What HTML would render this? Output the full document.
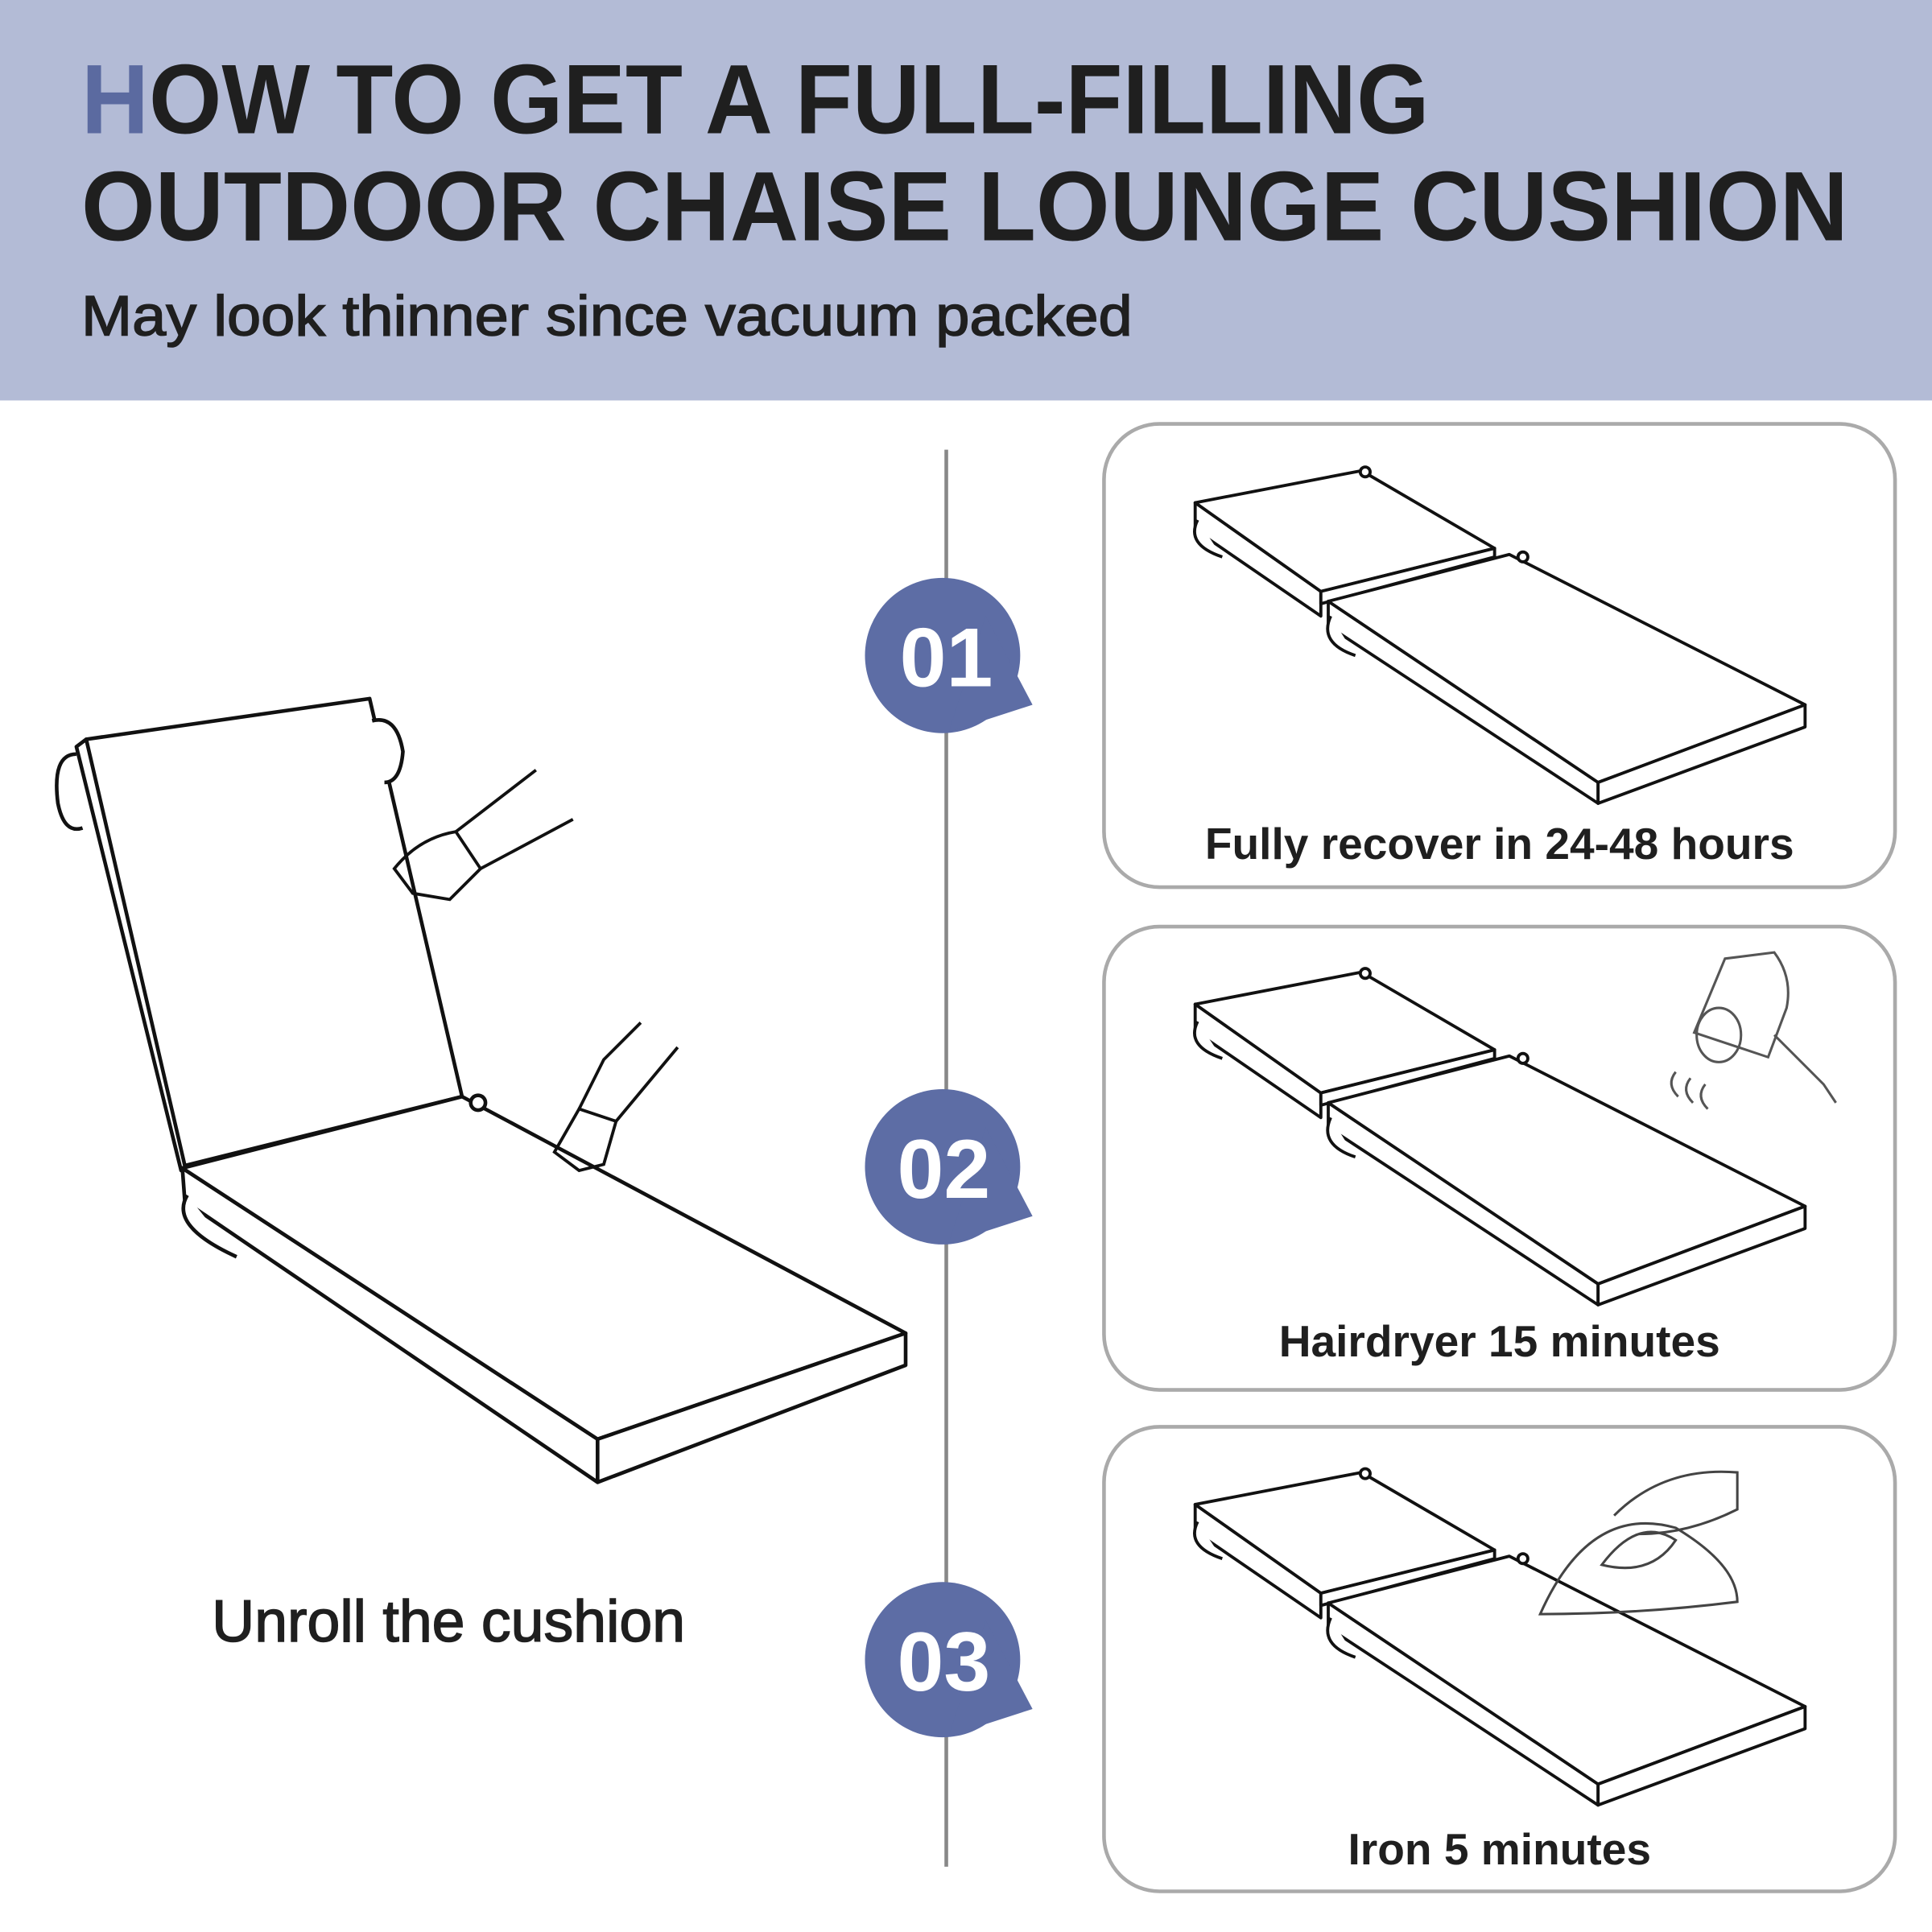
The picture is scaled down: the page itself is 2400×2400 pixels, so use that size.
<!DOCTYPE html>
<html><head><meta charset="utf-8"><style>
html,body{margin:0;padding:0;background:#fff}
svg{display:block}
</style></head><body>
<svg width="2400" height="2400" viewBox="0 0 1568 1568" xmlns="http://www.w3.org/2000/svg" font-family="Liberation Sans, sans-serif">
<rect x="0" y="0" width="1568" height="1568" fill="#fff"/>
<rect x="0" y="0" width="1568" height="325" fill="#b3bbd6"/>
<text x="66" y="108" font-size="80" font-weight="bold" fill="#1f1f1f" textLength="1094" lengthAdjust="spacingAndGlyphs"><tspan fill="#5b6aa0">H</tspan>OW TO GET A FULL-FILLING</text>
<text x="66" y="195" font-size="80" font-weight="bold" fill="#1f1f1f" textLength="1434" lengthAdjust="spacingAndGlyphs">OUTDOOR CHAISE LOUNGE CUSHION</text>
<text x="66" y="272" font-size="46" fill="#1f1f1f" stroke="#1f1f1f" stroke-width="1" textLength="853" lengthAdjust="spacingAndGlyphs">May look thinner since vacuum packed</text>

<line x1="768" y1="365" x2="768" y2="1515" stroke="#888" stroke-width="3"/>

<g fill="#5d6da5">
<circle cx="765" cy="532" r="63"/><polygon points="800,500 838,572 770,594"/>
<circle cx="765" cy="947" r="63"/><polygon points="800,915 838,987 770,1009"/>
<circle cx="765" cy="1347" r="63"/><polygon points="800,1315 838,1387 770,1409"/>
</g>
<g fill="#fff" font-size="68" font-weight="bold" text-anchor="middle">
<text x="768" y="557">01</text><text x="766" y="972">02</text><text x="766" y="1372">03</text>
</g>

<g fill="none" stroke="#aaa" stroke-width="3">
<rect x="896" y="344" width="642" height="376" rx="45"/>
<rect x="896" y="752" width="642" height="376" rx="45"/>
<rect x="896" y="1158" width="642" height="377" rx="45"/>
</g>

<defs>
<g id="c" fill="#fff" stroke="#111" stroke-width="2.5" stroke-linejoin="round">
<polygon points="970,408 970,430 1072,500 1072,480"/>
<polygon points="970,408 1105,382 1213,445 1072,480"/>
<polygon points="1072,480 1213,445 1213,452 1072,490"/>
<path d="M972,422 q-10,20 20,30" />
<circle cx="1108" cy="383" r="4"/>
<polygon points="1078,488 1078,508 1297,652 1297,635"/>
<polygon points="1078,488 1225,450 1465,572 1297,635"/>
<polygon points="1297,635 1465,572 1465,590 1297,652"/>
<path d="M1080,500 q-10,22 20,32"/>
<circle cx="1236" cy="452" r="4"/>
</g>
</defs>
<use href="#c"/>
<use href="#c" y="407"/>
<use href="#c" y="813"/>

<g fill="none" stroke="#555" stroke-width="2">
<path d="M1400,778 l40,-5 q15,20 10,45 l-15,40 l-60,-20 z"/>
<ellipse cx="1395" cy="840" rx="18" ry="22"/>
<path d="M1440,840 l40,40 l10,15"/>
<path d="M1360,870 q-8,10 2,20 M1372,875 q-8,10 2,20 M1384,880 q-8,10 2,20"/>
</g>
<g fill="none" stroke="#444" stroke-width="2">
<path d="M1250,1310 q40,-90 110,-70 q50,30 50,60 q-80,10 -160,10 z"/>
<path d="M1300,1270 q30,-40 60,-20 q-20,30 -60,20 z"/>
<path d="M1310,1230 q40,-40 100,-35 l0,30 q-40,20 -80,20"/>
</g>

<g font-size="36" fill="#1f1f1f" text-anchor="middle" font-weight="bold">
<text x="1217" y="697">Fully recover in 24-48 hours</text>
<text x="1217" y="1101">Hairdryer 15 minutes</text>
<text x="1217" y="1513">Iron 5 minutes</text>
</g>
<text x="364" y="1332" font-size="48" fill="#1f1f1f" stroke="#1f1f1f" stroke-width="1" text-anchor="middle">Unroll the cushion</text>

<g fill="#fff" stroke="#111" stroke-width="3" stroke-linejoin="round">
<polygon points="62,606 70,600 155,945 147,950"/>
<polygon points="70,600 300,567 375,890 150,946"/>
<path d="M62,612 q-20,0 -15,40 q5,25 20,20"/>
<path d="M302,585 q20,-5 25,25 q-2,25 -15,25"/>
<polygon points="148,948 150,975 485,1203 485,1168"/>
<polygon points="148,948 375,890 735,1082 485,1168"/>
<polygon points="485,1168 735,1082 735,1108 485,1203"/>
<path d="M152,970 q-15,25 40,50"/>
<circle cx="388" cy="895" r="6"/>
</g>
<g fill="none" stroke="#111" stroke-width="2.5">
<path d="M320,705 q20,-25 50,-30 l20,30 l-25,25 l-30,-5 z"/>
<path d="M370,675 l65,-50 M390,705 l75,-40"/>
<path d="M450,935 l20,-35 l30,10 l-10,35 l-20,5 z"/>
<path d="M470,900 l20,-40 l30,-30 M500,910 l50,-60"/>
</g>
</svg>
</body></html>
